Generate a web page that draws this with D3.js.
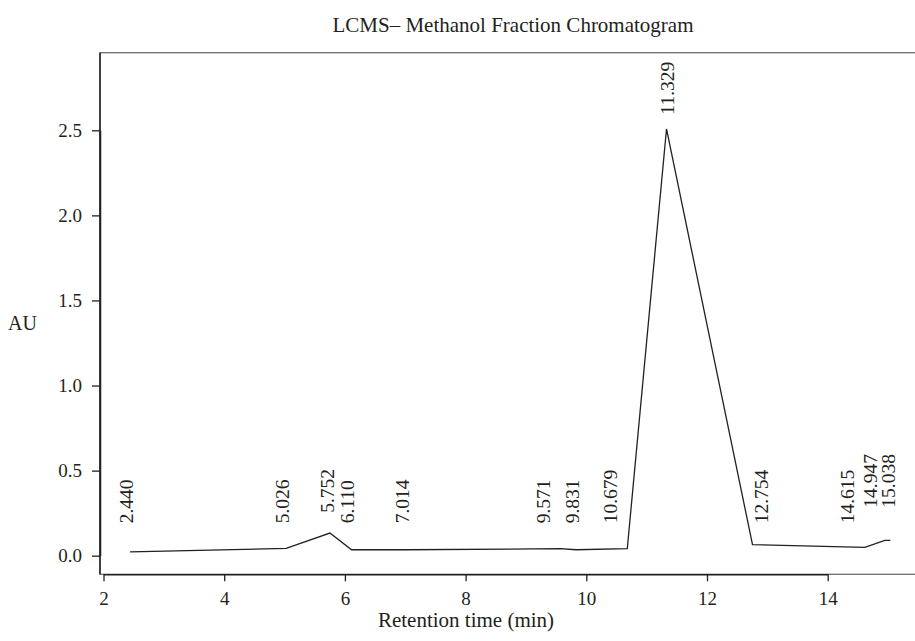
<!DOCTYPE html>
<html>
<head>
<meta charset="utf-8">
<script src="https://cdn.jsdelivr.net/npm/d3@7"></script>
<style>
    body { margin: 0; background: #fff; }
    svg { display: block; font-family: "Liberation Serif", "Times New Roman", serif; }
</style>
</head>
<body>
<script>
// chromatogram vertices (min, AU)
const retentionTimes = [2.440, 5.026, 5.752, 6.110, 7.014, 9.571, 9.831, 10.679, 11.329, 12.754, 14.615, 14.947, 15.038];
const absorbance = [0.023, 0.043, 0.133, 0.035, 0.035, 0.041, 0.035, 0.041, 2.508, 0.065, 0.049, 0.090, 0.090];

// peak annotations, placed where they sit on the picture (min, AU)
const peakLabels = ["2.440", "5.026", "5.752", "6.110", "7.014", "9.571", "9.831", "10.679", "11.329", "12.754", "14.615", "14.947", "15.038"];
const labelTimes = [2.373, 4.968, 5.701, 6.043, 6.945, 9.289, 9.773, 10.400, 11.333, 12.900, 14.330, 14.706, 15.002];
const labelLevels = [0.19, 0.19, 0.252, 0.19, 0.19, 0.19, 0.19, 0.19, 2.592, 0.19, 0.19, 0.282, 0.282];

const xTicks = [2, 4, 6, 8, 10, 12, 14];
const yTicks = [0, 0.5, 1.0, 1.5, 2.0, 2.5];

const textColor = "#231f20";
const W = 915, H = 641;
const frame = { left: 100, top: 52.7, right: 917, bottom: 574.3 };

const svg = d3.select("body")
    .append("svg")
    .attr("width", W)
    .attr("height", H);

const x = d3.scaleLinear().domain([2, 14]).range([103.5, 827.7]);
const y = d3.scaleLinear().domain([0, 2.5]).range([555.7, 130.3]);

// plot box
svg.append("rect")
    .attr("x", frame.left)
    .attr("y", frame.top)
    .attr("width", frame.right - frame.left)
    .attr("height", frame.bottom - frame.top)
    .attr("fill", "none")
    .attr("stroke", "#6d6d6d")
    .attr("stroke-width", 1.3);

// left side of the box is drawn dark like the axes
svg.append("line")
    .attr("x1", frame.left).attr("x2", frame.left)
    .attr("y1", frame.top).attr("y2", frame.bottom)
    .attr("stroke", textColor)
    .attr("stroke-width", 1.5);

const xAxis = svg.append("g")
    .attr("transform", `translate(0,${frame.bottom})`)
    .call(d3.axisBottom(x).tickValues(xTicks).tickFormat(d3.format("d"))
        .tickSize(7).tickSizeOuter(0).tickPadding(10));

const yAxis = svg.append("g")
    .attr("transform", `translate(${frame.left},0)`)
    .call(d3.axisLeft(y).tickValues(yTicks).tickFormat(d3.format(".1f"))
        .tickSize(8).tickSizeOuter(0).tickPadding(10));

[xAxis, yAxis].forEach(g => {
    g.attr("font-family", null).attr("font-size", null);
    g.select(".domain").attr("stroke", textColor).attr("stroke-width", 1.5);
    g.selectAll(".tick line").attr("stroke", textColor).attr("stroke-width", 1.3);
    g.selectAll(".tick text")
        .attr("fill", textColor)
        .style("font-size", "19px");
});

// trace
const line = d3.line()
    .x((d, i) => x(retentionTimes[i]))
    .y(d => y(d));

svg.append("path")
    .datum(absorbance)
    .attr("d", line)
    .attr("fill", "none")
    .attr("stroke", textColor)
    .attr("stroke-width", 1.3)
    .attr("stroke-linejoin", "miter");

// peak labels
svg.append("g")
    .selectAll("text")
    .data(peakLabels)
    .enter()
    .append("text")
    .attr("transform", (d, i) => `translate(${x(labelTimes[i])},${y(labelLevels[i])}) rotate(-90)`)
    .attr("dy", "0.35em")
    .attr("fill", textColor)
    .style("font-size", "19.5px")
    .text(d => d);

svg.append("text")
    .attr("x", 513)
    .attr("y", 32)
    .attr("text-anchor", "middle")
    .attr("fill", textColor)
    .style("font-size", "21px")
    .text("LCMS\u2013 Methanol Fraction Chromatogram");

svg.append("text")
    .attr("x", 466)
    .attr("y", 627)
    .attr("text-anchor", "middle")
    .attr("fill", textColor)
    .style("font-size", "21px")
    .text("Retention time (min)");

svg.append("text")
    .attr("x", 8)
    .attr("y", 330)
    .attr("fill", textColor)
    .style("font-size", "20px")
    .text("AU");
</script>
</body>
</html>
